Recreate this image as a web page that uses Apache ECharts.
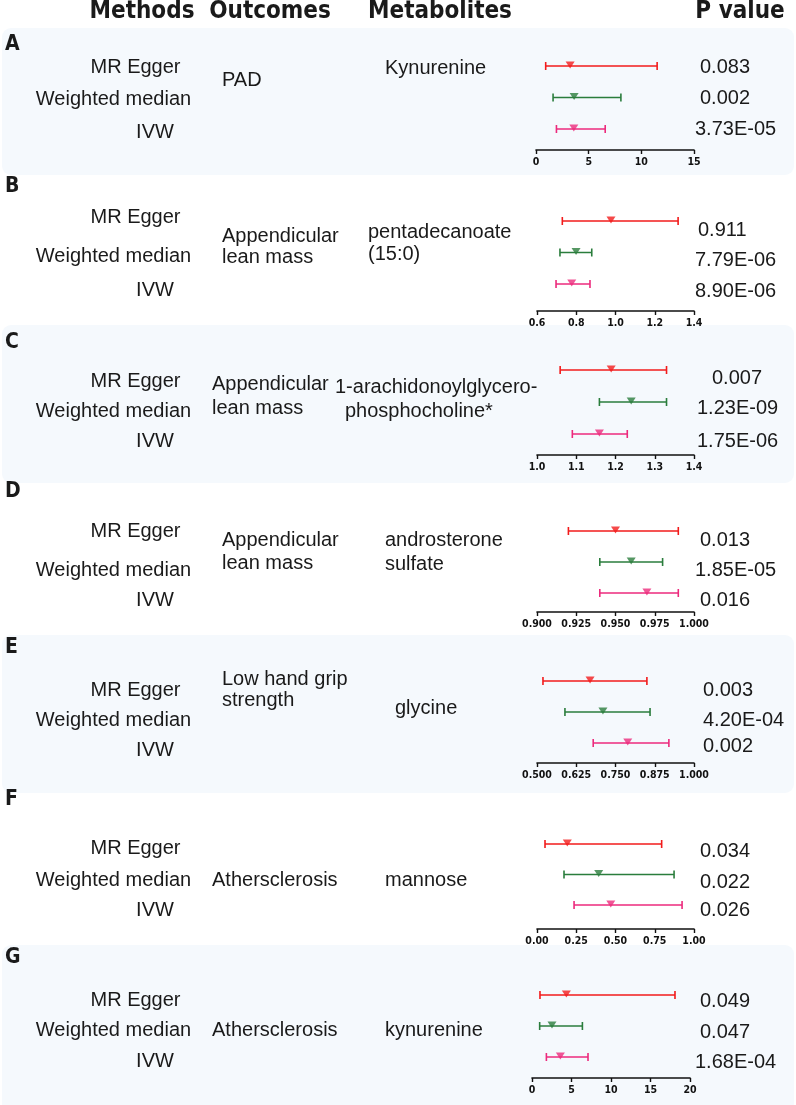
<!DOCTYPE html>
<html>
<head>
<meta charset="utf-8">
<script src="https://cdn.jsdelivr.net/npm/echarts@6/dist/echarts.min.js"></script>
<style>
html,body{margin:0;padding:0;background:#fff;}
#chart{width:796px;height:1105px;}
</style>
</head>
<body>
<div id="chart"></div>
<script>
// ---------------- DATA ----------------
const headers = ['Methods', 'Outcomes', 'Metabolites', 'P value'];
const panelLetters = ['A', 'B', 'C', 'D', 'E', 'F', 'G'];
const methods = ['MR Egger', 'Weighted median', 'IVW'];
const outcomes = [['PAD'], ['Appendicular', 'lean mass'], ['Appendicular', 'lean mass'], ['Appendicular', 'lean mass'], ['Low hand grip', 'strength'], ['Athersclerosis'], ['Athersclerosis']];
const metabolites = [['Kynurenine'], ['pentadecanoate', '(15:0)'], ['1-arachidonoylglycero-', 'phosphocholine*'], ['androsterone', 'sulfate'], ['glycine'], ['mannose'], ['kynurenine']];
const estimate = [[3.24, 3.62, 3.59], [0.977, 0.799, 0.777], [1.189, 1.240, 1.159], [0.950, 0.960, 0.970], [0.669, 0.710, 0.789], [0.193, 0.393, 0.470], [4.35, 2.53, 3.59]];
const lower = [[0.92, 1.62, 1.94], [0.729, 0.717, 0.697], [1.059, 1.159, 1.090], [0.920, 0.940, 0.940], [0.519, 0.589, 0.679], [0.051, 0.172, 0.236], [1.01, 0.97, 1.82]];
const upper = [[11.5, 8.06, 6.57], [1.319, 0.879, 0.870], [1.330, 1.330, 1.230], [0.990, 0.980, 0.990], [0.850, 0.860, 0.920], [0.794, 0.873, 0.924], [18.1, 6.38, 7.09]];
const pValues = [['0.083', '0.002', '3.73E-05'], ['0.911', '7.79E-06', '8.90E-06'], ['0.007', '1.23E-09', '1.75E-06'], ['0.013', '1.85E-05', '0.016'], ['0.003', '4.20E-04', '0.002'], ['0.034', '0.022', '0.026'], ['0.049', '0.047', '1.68E-04']];
const axisMin = [0, 0.6, 1.0, 0.9, 0.5, 0, 0];
const axisMax = [15, 1.4, 1.4, 1.0, 1.0, 1.0, 20];
const axisInterval = [5, 0.2, 0.1, 0.025, 0.125, 0.25, 5];
const tickDecimals = [0, 1, 1, 3, 3, 2, 0];

// ---------------- LAYOUT / STYLE ----------------
const methodColors = ['#f21b1b', '#2a7d3c', '#ec2a7c'];
const rowsY = [[66, 98, 129], [221, 253, 284], [370, 401, 434], [531, 561, 593], [681, 713, 743], [844, 875, 905], [995, 1025, 1057]];
const axisY = [150, 311, 455, 612, 763, 929, 1078];
const gridLeft = [536, 537, 537, 537, 537, 537, 532];
const gridWidth = [158, 157, 157, 157, 157, 157, 158];
const letterY = [45, 187, 343, 492, 648, 800, 958];
const methodTextY = [[67, 99, 132], [217, 256, 290], [381, 411, 441], [531, 570, 600], [690, 720, 750], [848, 880, 910], [1000, 1030, 1061]];
const methodCenterX = [135.5, 113.5, 155];
const outcomeX = [222, 222, 212, 222, 222, 212, 212];
const outcomeY = [[80], [236, 257], [384, 408], [540, 563], [679, 700], [880], [1030]];
const metabX = [[385], [368, 368], [335, 345], [385, 385], [395], [385], [385]];
const metabY = [[68], [232, 254], [387, 411], [540, 564], [708], [880], [1030]];
const pX = [[700, 700, 695], [698, 695, 695], [712, 697, 697], [700, 695, 700], [703, 703, 703], [700, 700, 700], [700, 700, 695]];
const pY = [[67, 98, 129], [230, 260, 291], [378, 408, 441], [540, 570, 600], [690, 720, 746], [851, 882, 910], [1001, 1032, 1062]];
const bgPanels = [[28, 175], [325, 483], [635, 793], [945, 1112]];

const REG = "Liberation Sans";
const COND = "DejaVu Sans Condensed";

const grids = [], xAxes = [], yAxes = [], series = [], graphics = [];

function txt(x, y, text, size, family, weight, align) {
  return { type: 'text', style: { x: x, y: y, text: text, fill: '#1a1a1a', fontSize: size, fontFamily: family, fontWeight: weight, textAlign: align, textVerticalAlign: 'middle' } };
}

bgPanels.forEach(function (b) {
  graphics.push({ type: 'rect', z: -10, shape: { x: 2, y: b[0], width: 792, height: b[1] - b[0], r: 9 }, style: { fill: '#f5f9fd' } });
});

const headerX = [142, 270, 440, 740];
headers.forEach(function (h, i) {
  graphics.push(txt(headerX[i], 12, h, 24, COND, 'bold', 'center'));
});

for (let p = 0; p < 7; p++) {
  const s = (rowsY[p][2] - rowsY[p][0]) / 2;
  const top = rowsY[p][0] - s;
  const h = axisY[p] - top;
  grids.push({ left: gridLeft[p], width: gridWidth[p], top: top, height: h });
  const dec = tickDecimals[p];
  xAxes.push({
    type: 'value', gridIndex: p, position: 'bottom', min: axisMin[p], max: axisMax[p], interval: axisInterval[p],
    axisLine: { show: true, onZero: false, lineStyle: { color: '#111', width: 1.6 } },
    axisTick: { show: true, inside: false, length: 4, lineStyle: { color: '#111', width: 1.4 } },
    splitLine: { show: false },
    axisLabel: { color: '#111', fontWeight: 'bold', fontSize: 10.5, fontFamily: COND, margin: 7, formatter: function (v) { return v.toFixed(dec); } }
  });
  yAxes.push({ type: 'value', gridIndex: p, min: 0, max: h / s, inverse: true, show: false });

  const barData = [], ptData = [];
  for (let r = 0; r < 3; r++) {
    barData.push({ value: [lower[p][r], upper[p][r], r + 1], itemStyle: { color: methodColors[r] } });
    ptData.push({ value: [estimate[p][r], r + 1], itemStyle: { color: methodColors[r] } });
  }
  series.push({
    type: 'custom', xAxisIndex: p, yAxisIndex: p, data: barData, silent: true,
    renderItem: function (params, api) {
      const a = api.coord([api.value(0), api.value(2)]);
      const b = api.coord([api.value(1), api.value(2)]);
      const col = api.visual('color');
      const st = { stroke: col, lineWidth: 1.6 };
      return { type: 'group', children: [
        { type: 'line', shape: { x1: a[0], y1: a[1], x2: b[0], y2: b[1] }, style: st },
        { type: 'line', shape: { x1: a[0], y1: a[1] - 4, x2: a[0], y2: a[1] + 4 }, style: st },
        { type: 'line', shape: { x1: b[0], y1: b[1] - 4, x2: b[0], y2: b[1] + 4 }, style: st }
      ] };
    }
  });
  series.push({
    type: 'scatter', xAxisIndex: p, yAxisIndex: p, data: ptData, symbol: 'triangle', symbolRotate: 180,
    symbolSize: [9, 7], symbolOffset: [0, -1], silent: true, z: 5
  });

  graphics.push(txt(5, letterY[p], panelLetters[p], 21, COND, 'bold', 'left'));
  for (let r = 0; r < 3; r++) {
    graphics.push(txt(methodCenterX[r], methodTextY[p][r], methods[r], 20, REG, 'normal', 'center'));
    graphics.push(txt(pX[p][r], pY[p][r], pValues[p][r], 20, REG, 'normal', 'left'));
  }
  outcomes[p].forEach(function (t, k) {
    graphics.push(txt(outcomeX[p], outcomeY[p][k], t, 20, REG, 'normal', 'left'));
  });
  metabolites[p].forEach(function (t, k) {
    graphics.push(txt(metabX[p][k], metabY[p][k], t, 20, REG, 'normal', 'left'));
  });
}

const chart = echarts.init(document.getElementById('chart'), null, { renderer: 'canvas' });
chart.setOption({
  animation: false,
  backgroundColor: '#ffffff',
  grid: grids, xAxis: xAxes, yAxis: yAxes, series: series, graphic: graphics
});
</script>
</body>
</html>
